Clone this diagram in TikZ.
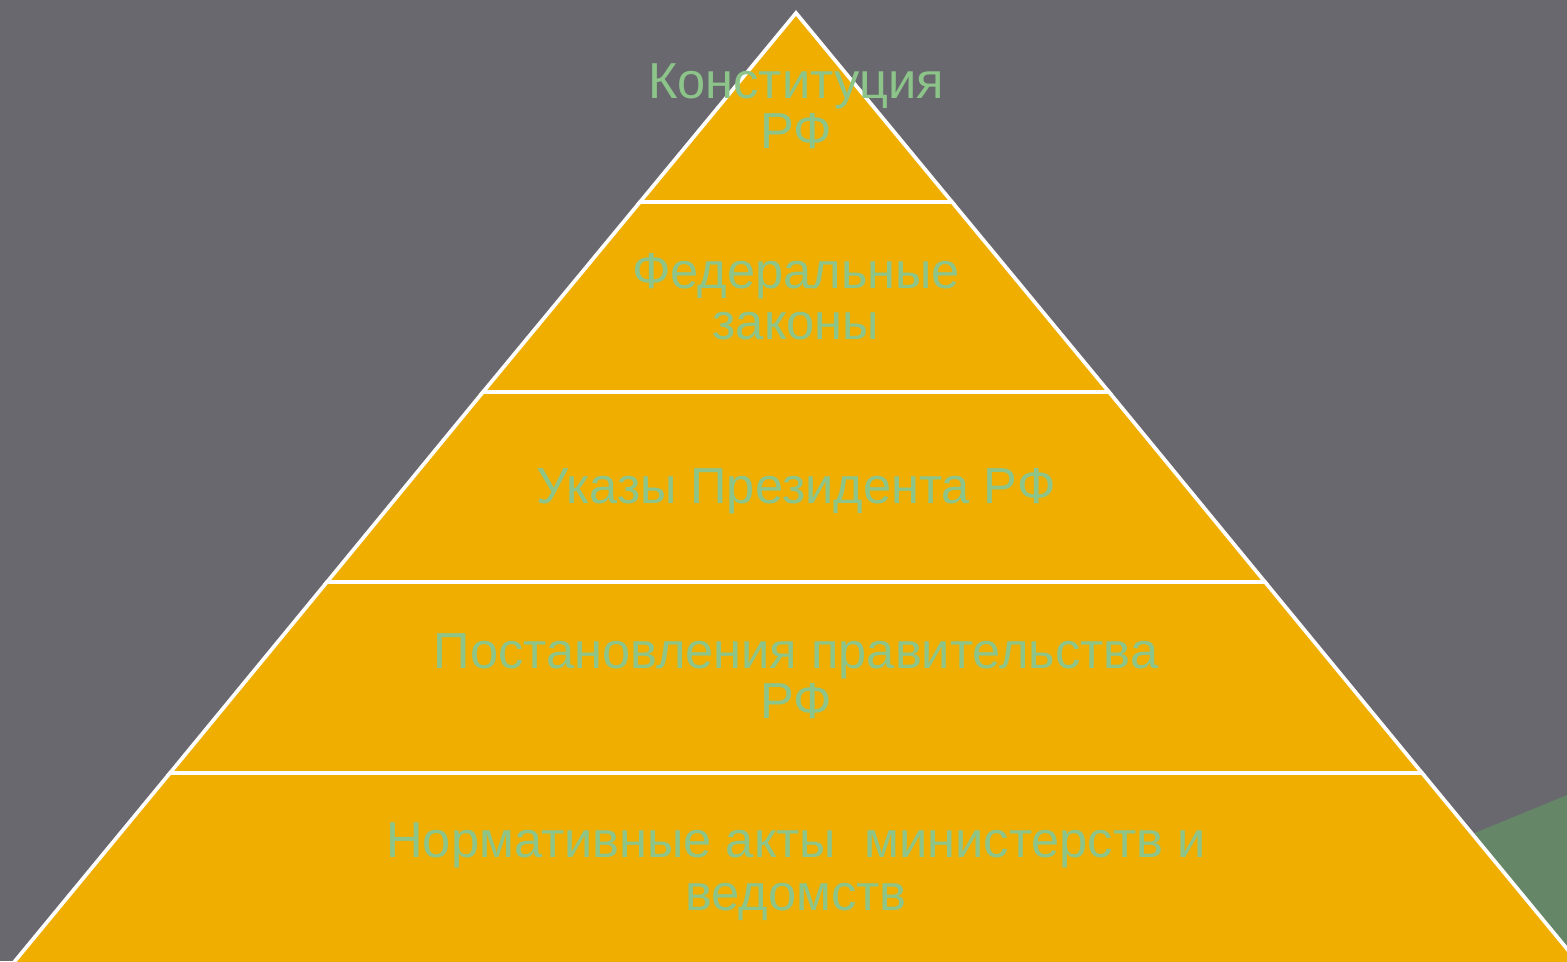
\documentclass[tikz,border=0pt]{standalone}
\usepackage{fontspec}
\setmainfont{Liberation Sans}
\definecolor{bg}{HTML}{69686E}
\definecolor{gold}{HTML}{F0AE00}
\definecolor{txt}{HTML}{8CC48A}
\definecolor{leaf}{HTML}{658768}
\begin{document}
\begin{tikzpicture}[x=0.02cm,y=-0.02cm,
  layer/.style={fill=gold,draw=white,line width=2.1pt,line join=miter},
  lbl/.style={text=txt,anchor=base,inner sep=0pt,font=\fontsize{28.8}{31}\selectfont}]
\fill[bg] (0,0) rectangle (1567,961);
\useasboundingbox (0,0) rectangle (1567,961);
\begin{scope}
\clip (0,0) rectangle (1567,961);
\fill[leaf] (1567,795) -- (1300,905) -- (1300,961) -- (1567,961) -- cycle;
\coordinate (apex) at (796,13);
\coordinate (l1) at (640,202); \coordinate (r1) at (952,202);
\coordinate (l2) at (483,392); \coordinate (r2) at (1109,392);
\coordinate (l3) at (327,582); \coordinate (r3) at (1265,582);
\coordinate (l4) at (170,773); \coordinate (r4) at (1422,773);
\coordinate (l5) at (15,961); \coordinate (r5) at (1577,961);
\coordinate (l6) at (-20,1004); \coordinate (r6) at (1612,1004);
\draw[layer] (l5) -- (l4) -- (r4) -- (r5) -- (r6) -- (l6) -- cycle;
\draw[layer] (l4) -- (l3) -- (r3) -- (r4) -- cycle;
\draw[layer] (l3) -- (l2) -- (r2) -- (r3) -- cycle;
\draw[layer] (l2) -- (l1) -- (r1) -- (r2) -- cycle;
\draw[layer] (l1) -- (apex) -- (r1) -- cycle;
\end{scope}
\node[lbl] (t1a) at (796,98) {Конституция};
\node[lbl] (t1b) at (796,148) {РФ};
\node[lbl] (t2a) at (796,288) {Федеральные};
\node[lbl] (t2b) at (796,339) {законы};
\node[lbl] (t3) at (796,503) {Указы Президента РФ};
\node[lbl] (t4a) at (796,668) {Постановления правительства};
\node[lbl] (t4b) at (796,718) {РФ};
\node[lbl] (t5a) at (796,857) {Нормативные акты\ \ министерств и};
\node[lbl] (t5b) at (796,910) {ведомств};
\end{tikzpicture}
\end{document}
